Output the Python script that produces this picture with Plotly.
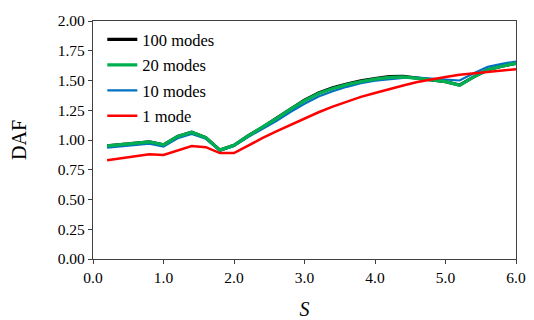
import plotly.graph_objects as go

S = [0.2, 0.4, 0.6, 0.8, 1.0, 1.2, 1.4, 1.6, 1.8, 2.0,
     2.2, 2.4, 2.6, 2.8, 3.0, 3.2, 3.4, 3.6, 3.8, 4.0,
     4.2, 4.4, 4.6, 4.8, 5.0, 5.2, 5.4, 5.6, 5.8, 6.0]

daf_100 = [0.950, 0.963, 0.975, 0.985, 0.960, 1.030, 1.065, 1.020, 0.915, 0.955,
           1.035, 1.105, 1.183, 1.263, 1.335, 1.395, 1.438, 1.470, 1.497, 1.517,
           1.532, 1.535, 1.523, 1.506, 1.490, 1.462, 1.530, 1.590, 1.620, 1.645]
daf_20 = [0.950, 0.963, 0.975, 0.985, 0.960, 1.030, 1.065, 1.020, 0.915, 0.955,
          1.035, 1.105, 1.180, 1.260, 1.330, 1.390, 1.433, 1.465, 1.492, 1.512,
          1.527, 1.530, 1.520, 1.505, 1.490, 1.460, 1.530, 1.590, 1.620, 1.645]
daf_10 = [0.935, 0.948, 0.960, 0.970, 0.945, 1.015, 1.050, 1.010, 0.910, 0.950,
          1.025, 1.090, 1.160, 1.235, 1.305, 1.365, 1.410, 1.447, 1.477, 1.498,
          1.513, 1.522, 1.524, 1.515, 1.505, 1.500, 1.560, 1.615, 1.640, 1.660]
daf_1 = [0.830, 0.845, 0.860, 0.880, 0.875, 0.915, 0.950, 0.940, 0.890, 0.890,
         0.955, 1.015, 1.072, 1.128, 1.183, 1.233, 1.280, 1.322, 1.362, 1.395,
         1.428, 1.458, 1.487, 1.510, 1.530, 1.548, 1.560, 1.575, 1.585, 1.595]

x_ticks = [0, 1, 2, 3, 4, 5, 6]
x_tick_labels = ["0.0", "1.0", "2.0", "3.0", "4.0", "5.0", "6.0"]
y_ticks = [0, 0.25, 0.5, 0.75, 1.0, 1.25, 1.5, 1.75, 2.0]
y_tick_labels = ["0.00", "0.25", "0.50", "0.75", "1.00", "1.25", "1.50", "1.75", "2.00"]

serif = "'Liberation Serif', 'Times New Roman', serif"

fig = go.Figure()
series = [
    ("100 modes", daf_100, "#000000", 3.2, 1),
    ("10 modes", daf_10, "#0070C0", 2.2, 3),
    ("20 modes", daf_20, "#00B050", 3.2, 2),
    ("1 mode", daf_1, "#FF0000", 2.5, 4),
]
for name, ys, color, w, rank in series:
    fig.add_trace(go.Scatter(
        x=S, y=ys, mode="lines", name=name,
        line=dict(color=color, width=w),
        legendrank=rank, legendgroup=name,
    ))

fig.update_layout(
    width=526, height=312,
    margin=dict(l=85, r=18, t=13, b=61, autoexpand=False),
    paper_bgcolor="white", plot_bgcolor="white",
    font=dict(family=serif, size=15, color="#000000"),
    showlegend=True,
    legend=dict(
        x=0.022, y=0.995, xanchor="left", yanchor="top",
        bgcolor="rgba(0,0,0,0)", font=dict(family=serif, size=16.5),
        traceorder="grouped", tracegroupgap=1,
        itemwidth=30,
    ),
    xaxis=dict(
        range=[0, 6], tickvals=x_ticks, ticktext=x_tick_labels,
        showgrid=False, zeroline=False, automargin=False,
        showline=True, linecolor="#404040", linewidth=1.2, mirror=True,
        ticks="outside", ticklen=4, tickcolor="#404040",
        tickfont=dict(family=serif, size=15.5),
        title=dict(text="<i>S</i>", font=dict(family=serif, size=20), standoff=27),
    ),
    yaxis=dict(
        range=[0, 2], tickvals=y_ticks, ticktext=y_tick_labels,
        showgrid=False, zeroline=False, automargin=False,
        showline=True, linecolor="#404040", linewidth=1.2, mirror=True,
        ticks="outside", ticklen=4, tickcolor="#404040",
        tickfont=dict(family=serif, size=15.5),
        title=dict(text="DAF", font=dict(family=serif, size=20), standoff=25),
    ),
)

fig.write_html("out.html")
